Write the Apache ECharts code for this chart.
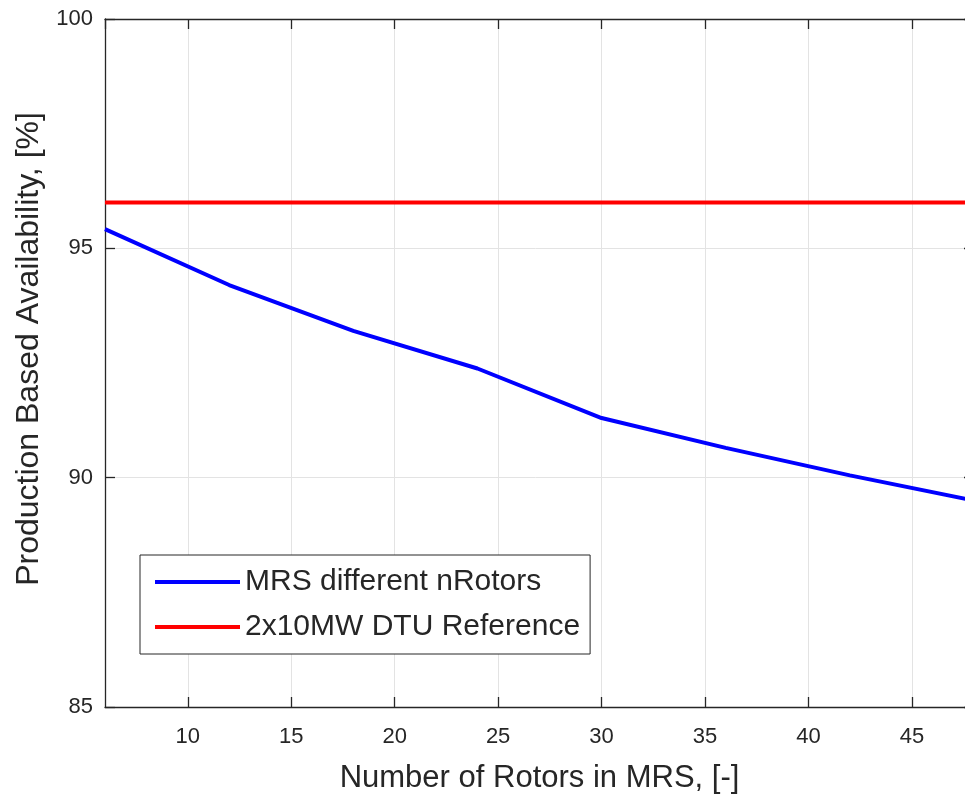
<!DOCTYPE html>
<html>
<head>
<meta charset="utf-8">
<script src="https://cdn.jsdelivr.net/npm/echarts@6/dist/echarts.min.js"></script>
<style>
  html, body { margin: 0; padding: 0; background: #ffffff; }
  #chart { width: 965px; height: 794px; }
</style>
</head>
<body>
<div id="chart"></div>
<script>
// Number of rotors in the multi-rotor system (MRS)
const nRotors = [6, 12, 18, 24, 30, 36, 42, 48];
// Production based availability of the MRS for each rotor count, %
const mrsAvailability = [95.42, 94.20, 93.20, 92.38, 91.30, 90.65, 90.05, 89.50];
// Reference availability of the 2x10MW DTU turbine, %
const refX = [6, 48];
const refAvailability = [96.0, 96.0];

const seriesNames = ['MRS different nRotors', '2x10MW DTU Reference'];
const xTitle = 'Number of Rotors in MRS, [-]';
const yTitle = 'Production Based Availability, [%]';

const FONT = '"Liberation Sans", Arial, Helvetica, sans-serif';
const INK = '#262626';
const GRID = '#e3e3e3';

const pairs = (xs, ys) => xs.map((x, i) => [x, ys[i]]);

const chart = echarts.init(document.getElementById('chart'), null, { renderer: 'canvas' });

const xCommon = {
  type: 'value',
  min: 6,
  max: 48,
  minInterval: 5,
  maxInterval: 5,
  splitNumber: 8
};

chart.setOption({
  animation: false,
  backgroundColor: '#ffffff',
  // the axes box runs a little past the right edge of the canvas
  grid: {
    left: 105, top: 19, width: 869, height: 688,
    containLabel: false,
    outerBoundsMode: 'none'
  },
  legend: {
    orient: 'vertical',
    left: 140,
    top: 555,
    data: seriesNames,
    icon: 'rect',
    itemWidth: 85,
    itemHeight: 4,
    itemGap: 15,
    padding: [12, 10, 12, 15],
    backgroundColor: '#ffffff',
    borderColor: INK,
    borderWidth: 1,
    borderRadius: 0,
    textStyle: { fontFamily: FONT, fontSize: 30, color: INK, lineHeight: 30 }
  },
  xAxis: [
    Object.assign({}, xCommon, {
      position: 'bottom',
      name: xTitle,
      nameLocation: 'middle',
      nameGap: 56,
      nameTextStyle: { fontFamily: FONT, fontSize: 31, color: INK },
      axisLine: { show: true, onZero: false, lineStyle: { color: INK, width: 1.3 } },
      axisTick: { show: true, inside: true, length: 10, lineStyle: { color: INK, width: 1.3 } },
      axisLabel: {
        show: true, margin: 19, showMinLabel: false, showMaxLabel: false,
        fontFamily: FONT, fontSize: 22, color: INK
      },
      splitLine: { show: true, lineStyle: { color: GRID, width: 1 } }
    }),
    Object.assign({}, xCommon, {
      position: 'top',
      axisLine: { show: true, onZero: false, lineStyle: { color: INK, width: 1.3 } },
      axisTick: { show: true, inside: true, length: 10, lineStyle: { color: INK, width: 1.3 } },
      axisLabel: { show: false },
      splitLine: { show: false }
    })
  ],
  yAxis: [
    {
      type: 'value',
      position: 'left',
      min: 85,
      max: 100,
      interval: 5,
      name: yTitle,
      nameLocation: 'middle',
      nameGap: 49,
      nameTextStyle: { fontFamily: FONT, fontSize: 32, color: INK, padding: [0, 0, 0, 28] },
      axisLine: { show: true, onZero: false, lineStyle: { color: INK, width: 1.3 } },
      axisTick: { show: true, inside: true, length: 10, lineStyle: { color: INK, width: 1.3 } },
      axisLabel: { show: true, margin: 12, fontFamily: FONT, fontSize: 22, color: INK },
      splitLine: { show: true, lineStyle: { color: GRID, width: 1 } }
    },
    {
      type: 'value',
      position: 'right',
      min: 85,
      max: 100,
      interval: 5,
      axisLine: { show: true, onZero: false, lineStyle: { color: INK, width: 1.3 } },
      axisTick: { show: true, inside: true, length: 10, lineStyle: { color: INK, width: 1.3 } },
      axisLabel: { show: false },
      splitLine: { show: false }
    }
  ],
  series: [
    {
      name: seriesNames[0],
      type: 'line',
      xAxisIndex: 0,
      yAxisIndex: 0,
      data: pairs(nRotors, mrsAvailability),
      symbol: 'none',
      smooth: false,
      lineStyle: { color: '#0000ff', width: 4 },
      itemStyle: { color: '#0000ff' },
      z: 3
    },
    {
      name: seriesNames[1],
      type: 'line',
      xAxisIndex: 0,
      yAxisIndex: 0,
      data: pairs(refX, refAvailability),
      symbol: 'none',
      lineStyle: { color: '#ff0000', width: 4 },
      itemStyle: { color: '#ff0000' },
      z: 3
    }
  ]
});
</script>
</body>
</html>
